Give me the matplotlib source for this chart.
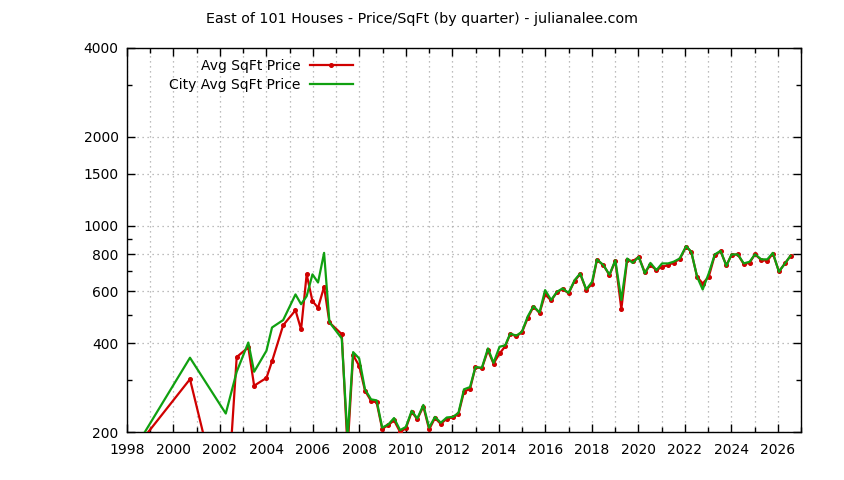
import matplotlib
matplotlib.use("Agg")
import matplotlib.pyplot as plt
from matplotlib.ticker import FixedLocator, NullFormatter, FixedFormatter

# ---- data ----
years = [1998.0, 2000.71, 2002.25, 2002.72, 2003.22, 2003.47, 2004.0, 2004.24, 2004.72,
         2005.25, 2005.49, 2005.73, 2005.98, 2006.22, 2006.48, 2006.71, 2007.24, 2007.49,
         2007.73, 2007.99, 2008.24, 2008.5, 2008.74, 2008.98, 2009.24, 2009.49, 2009.75,
         2010.0, 2010.25, 2010.49, 2010.75, 2011.0, 2011.25, 2011.5, 2011.76, 2012.02,
         2012.26, 2012.5, 2012.76, 2012.99, 2013.27, 2013.53, 2013.77, 2014.03, 2014.27,
         2014.49, 2014.75, 2014.99, 2015.25, 2015.49, 2015.75, 2015.99, 2016.25, 2016.5,
         2016.74, 2017.0, 2017.26, 2017.5, 2017.76, 2018.01, 2018.22, 2018.5, 2018.76,
         2019.01, 2019.27, 2019.52, 2019.76, 2020.02, 2020.28, 2020.52, 2020.78, 2021.02,
         2021.28, 2021.52, 2021.78, 2022.06, 2022.28, 2022.53, 2022.77, 2023.03, 2023.29,
         2023.54, 2023.79, 2024.01, 2024.28, 2024.54, 2024.79, 2025.02, 2025.29, 2025.55,
         2025.79, 2026.05, 2026.31, 2026.55]

avg_sqft = [162, 302, 96, 359, 387, 287, 305, 347, 460,
            517, 445, 684, 555, 527, 621, 470, 429, 175,
            364, 335, 276, 255, 252, 205, 211, 219, 200,
            206, 234, 221, 244, 204, 223, 213, 222, 224,
            230, 274, 280, 331, 329, 378, 341, 369, 390,
            430, 422, 435, 488, 532, 506, 585, 558, 595,
            610, 590, 650, 686, 606, 635, 765, 735, 680,
            760, 522, 765, 758, 784, 695, 735, 707, 725,
            735, 750, 770, 850, 815, 671, 637, 671, 795,
            818, 735, 795, 800, 740, 750, 800, 765, 760,
            805, 700, 745, 790]

city_avg = [159, 357, 231, 320, 402, 320, 377, 452, 479,
            585, 542, 577, 684, 642, 809, 471, 415, 190,
            373, 355, 279, 258, 256, 207, 212, 223, 203,
            208, 236, 222, 247, 207, 225, 215, 224, 225,
            232, 279, 284, 332, 330, 384, 343, 389, 393,
            431, 424, 437, 494, 534, 508, 605, 560, 597,
            613, 592, 654, 689, 608, 645, 769, 735, 682,
            764, 560, 774, 748, 784, 689, 748, 707, 745,
            745, 755, 774, 853, 815, 671, 608, 689, 799,
            822, 730, 799, 799, 745, 755, 800, 769, 769,
            809, 698, 745, 791]

y_major = [200, 400, 600, 800, 1000, 1500, 2000, 4000]
y_minor = [300, 500, 700, 900, 3000]
x_major = list(range(1998, 2028, 2))
x_minor = list(range(1999, 2028, 2))

title = "East of 101 Houses - Price/SqFt (by quarter) - julianalee.com"
label_avg = "Avg SqFt Price"
label_city = "City Avg SqFt Price"

RED = "#d00000"
GREEN = "#10a010"

plt.rcParams['font.family'] = ['DejaVu Sans']
plt.rcParams['font.size'] = 10

fig = plt.figure(figsize=(8.44, 4.8), dpi=100)
ax = fig.add_axes([127/844, 1-432/480, (801-127)/844, (432-48)/480])

ax.plot(years, avg_sqft, color=RED, lw=1.6, marker='o', ms=2.6, mfc=RED, mec=RED,
        label=label_avg, zorder=3)
ax.plot(years, city_avg, color=GREEN, lw=1.6, label=label_city, zorder=4)

ax.set_yscale('log')
ax.set_ylim(200, 4000)
ax.set_xlim(1998, 2027)

ax.yaxis.set_major_locator(FixedLocator(y_major))
ax.yaxis.set_major_formatter(FixedFormatter([str(v) for v in y_major]))
ax.yaxis.set_minor_locator(FixedLocator(y_minor))
ax.yaxis.set_minor_formatter(NullFormatter())
ax.xaxis.set_major_locator(FixedLocator(x_major))
ax.xaxis.set_major_formatter(FixedFormatter([str(v) for v in x_major]))
ax.xaxis.set_minor_locator(FixedLocator(x_minor))
ax.xaxis.set_minor_formatter(NullFormatter())

ax.tick_params(which='both', direction='in', top=True, right=True, width=1, colors='black')
ax.tick_params(which='major', length=6)
ax.tick_params(which='minor', length=3.5)
ax.tick_params(axis='y', which='major', pad=6)
ax.tick_params(axis='x', which='major', pad=8)

for s in ax.spines.values():
    s.set_linewidth(1)
    s.set_color('black')

grid_kw = dict(color='#a8a8a8', linestyle=(0, (1, 3)), linewidth=0.9)
ax.grid(True, which='major', axis='both', **grid_kw)
ax.grid(True, which='minor', axis='x', **grid_kw)
ax.set_axisbelow(True)

leg = ax.legend(loc='upper right', bbox_to_anchor=(353/844, 1-59/480),
                bbox_transform=fig.transFigure, frameon=False, markerfirst=False,
                handlelength=3.1, handletextpad=0.7, labelspacing=0.38,
                borderpad=0, borderaxespad=0, fontsize=10, numpoints=1)
for t in leg.get_texts():
    t.set_ha('right')

fig.text(0.5, 1-19/480, title, ha='center', va='center', fontsize=10.3)

fig.savefig("out.png", dpi=100)
